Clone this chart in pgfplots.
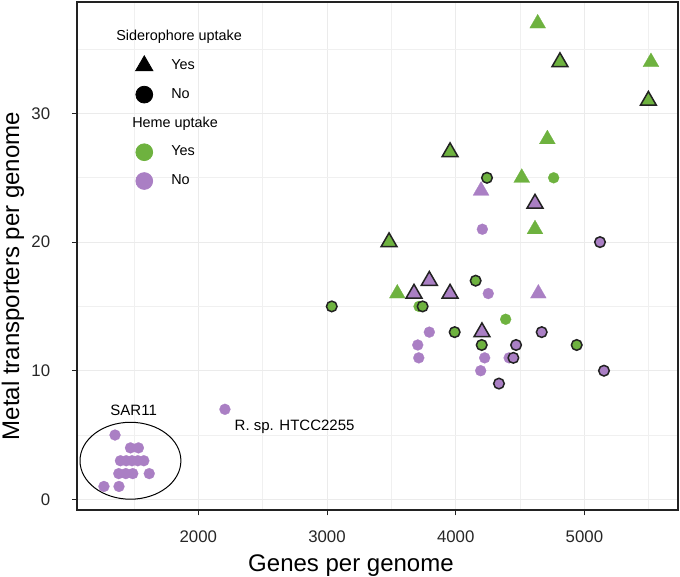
\documentclass[border=0pt]{standalone}
\usepackage{pgfplots}
\pgfplotsset{compat=1.18}
\usepackage{fontspec}
\setmainfont{Liberation Sans}
\definecolor{hgreen}{RGB}{110,178,63}
\definecolor{hpurple}{RGB}{170,127,196}
\definecolor{edge}{RGB}{34,34,34}
\begin{document}
\begin{tikzpicture}
\begin{axis}[name=ax, scale only axis, width=300.35pt, height=254pt,
 xmin=1060, xmax=5727, ymin=-0.83, ymax=38.67,
 xtick={2000,3000,4000,5000}, xticklabels={2000,3000,4000,5000},
 minor xtick={1500,2500,3500,4500,5500},
 ytick={0,10,20,30}, yticklabels={0,10,20,30},
 minor ytick={5,15,25,35},
 grid=both, major grid style={black!8, line width=0.5pt}, minor grid style={black!6, line width=0.35pt},
 tick pos=left, tick align=outside, major tick length=2.75pt, minor tick length=0pt,
 axis line style={edge, line width=0.8pt}, tick style={edge, line width=0.5pt},
 ticklabel style={font=\fontsize{8.4}{10}\selectfont, text=black!85},
 xticklabel style={anchor=center, yshift=-10.85pt},
 yticklabel style={anchor=east, xshift=-7.3pt},
 xlabel={Genes per genome}, ylabel={Metal transporters per genome},
 label style={font=\fontsize{12}{14}\selectfont},
 xlabel style={at={(axis description cs:0.4556,0)}, anchor=center, yshift=-28pt},
 ylabel style={at={(axis description cs:0,0.4606)}, anchor=center, yshift=32.15pt},
 legend style={at={(axis description cs:0.0832,0.9594)}, anchor=north west, draw=none, fill=none,
   inner sep=0pt, outer sep=0pt, row sep=0pt, font=\fontsize{7.2}{8.6}\selectfont,
   nodes={inner sep=0pt, minimum height=14.4pt}},
 legend cell align=left,
 legend image code/.code={\path[draw=none, fill=none] (-8.5pt,-1pt) rectangle (13.5pt,1pt); \draw[#1] plot coordinates {(0pt,0pt)};},
]
% legend
\addlegendimage{empty legend}
\addlegendentry{\hspace{-27.5pt}Siderophore uptake}
\addlegendimage{only marks, mark=triangle*, mark size=5pt, black}
\addlegendentry{Yes}
\addlegendimage{only marks, mark=*, mark size=4.2pt, black}
\addlegendentry{No}
\addlegendimage{empty legend}
\addlegendentry{\hspace{-19.5pt}Heme uptake}
\addlegendimage{only marks, mark=*, mark size=4.2pt, hgreen}
\addlegendentry{Yes}
\addlegendimage{only marks, mark=*, mark size=4.2pt, hpurple}
\addlegendentry{No}

% SAR11 ellipse
\draw[line width=0.5pt, black] (axis cs:1473,3) ellipse [x radius=392, y radius=2.99];

% A: green triangles, no outline
\addplot[forget plot, only marks, mark=triangle*, mark size=4.6pt, mark options={draw=hgreen, fill=hgreen, line width=0.1pt}]
 coordinates {(4637,37) (5517,34) (4712,28) (4513,25) (4616,21) (3546,16)};
% C: green circles, no outline
\addplot[forget plot, only marks, mark=*, mark size=2.75pt, mark options={draw=hgreen, fill=hgreen, line width=0.1pt}]
 coordinates {(4761,25) (4388,14) (3715,15)};
% E: purple triangles, no outline
\addplot[forget plot, only marks, mark=triangle*, mark size=4.6pt, mark options={draw=hpurple, fill=hpurple, line width=0.1pt}]
 coordinates {(4197,24) (4642,16)};
% G: purple circles, no outline
\addplot[forget plot, only marks, mark=*, mark size=2.75pt, mark options={draw=hpurple, fill=hpurple, line width=0.1pt}]
 coordinates {(4207,21) (4253,16) (3795,13) (3705,12) (3713,11) (4225,11) (4194,10) (4415,11) (2207,7)
  (1353,5) (1473,4) (1535,4) (1395,3) (1440,3) (1485,3) (1530,3) (1577,3)
  (1382,2) (1437,2) (1491,2) (1619,2) (1267,1) (1384,1)};
% B: green triangles, outline
\addplot[forget plot, only marks, mark=triangle*, mark size=4.6pt, mark options={draw=edge, fill=hgreen, line width=0.75pt}]
 coordinates {(4810,34) (5497,31) (3956,27) (3482,20)};
% D: green circles, outline
\addplot[forget plot, only marks, mark=*, mark size=2.65pt, mark options={draw=edge, fill=hgreen, line width=0.75pt}]
 coordinates {(4243,25) (4155,17) (3037,15) (3743,15) (3992,13) (4202,12) (4940,12)};
% F: purple triangles, outline
\addplot[forget plot, only marks, mark=triangle*, mark size=4.6pt, mark options={draw=edge, fill=hpurple, line width=0.75pt}]
 coordinates {(4616,23) (3795,17) (3676,16) (3956,16) (4204,13)};
% H: purple circles, outline
\addplot[forget plot, only marks, mark=*, mark size=2.65pt, mark options={draw=edge, fill=hpurple, line width=0.75pt}]
 coordinates {(5121,20) (4668,13) (4469,12) (4448,11) (4336,9) (5152,10)};

\node[font=\fontsize{7.5}{9}\selectfont] at (axis cs:1498,6.94) {SAR11};
\node[font=\fontsize{7.5}{9}\selectfont, anchor=west, inner sep=0pt] at (axis cs:2280,5.65) {R. sp. HTCC2255};
\end{axis}
\pgfresetboundingbox
\path ([xshift=-38.65pt,yshift=-33.5pt]ax.south west) rectangle ([xshift=1pt,yshift=1pt]ax.north east);
\end{tikzpicture}
\end{document}
